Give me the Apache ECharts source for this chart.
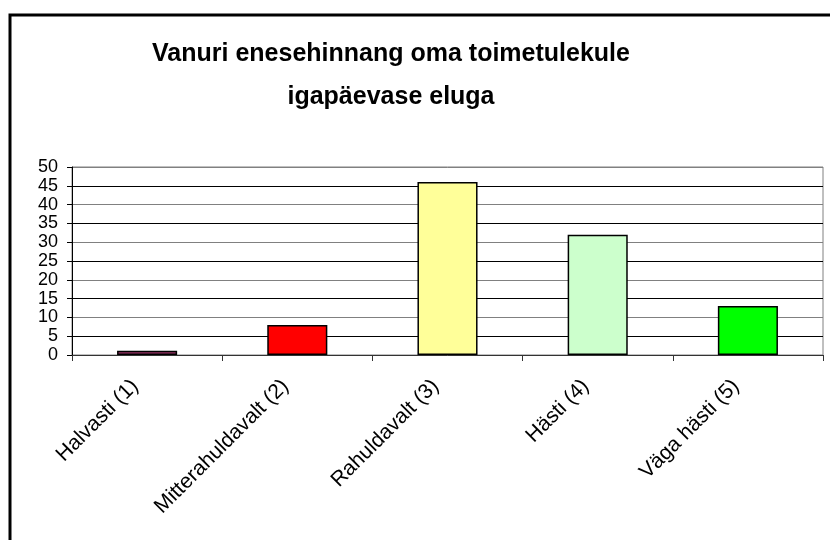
<!DOCTYPE html>
<html>
<head>
<meta charset="utf-8">
<script src="https://cdn.jsdelivr.net/npm/echarts@6/dist/echarts.min.js"></script>
<style>
  html, body { margin: 0; padding: 0; background: #fff; }
  #chart { width: 830px; height: 540px; }
</style>
</head>
<body>
<div id="chart"></div>
<script>
var categories = ['Halvasti (1)', 'Mitterahuldavalt (2)', 'Rahuldavalt (3)', 'Hästi (4)', 'Väga hästi (5)'];
var values = [1.1, 8, 46, 32, 13];
var barColors = ['#993366', '#ff0000', '#ffff99', '#ccffcc', '#00ff00'];

var myChart = echarts.init(document.getElementById('chart'));

var seriesData = [];
for (var i = 0; i < values.length; i++) {
    seriesData.push({ value: values[i], itemStyle: { color: barColors[i] } });
}

var option = {
    backgroundColor: '#fff',
    animation: false,
    textStyle: { fontFamily: 'Liberation Sans, Arial, sans-serif' },
    title: {
        text: 'Vanuri enesehinnang oma toimetulekule\nigapäevase eluga',
        left: 386,
        top: 28,
        textAlign: 'center',
        textStyle: {
            fontSize: 25,
            fontWeight: 'bold',
            color: '#000',
            lineHeight: 43,
            fontFamily: 'Liberation Sans, Arial, sans-serif'
        }
    },
    graphic: [{
        type: 'rect',
        shape: { x: 10, y: 15, width: 900, height: 600 },
        style: { fill: null, stroke: '#000', lineWidth: 3 },
        silent: true
    }],
    grid: {
        left: 72,
        right: 7,
        top: 167,
        bottom: 185,
        show: true,
        borderColor: '#808080',
        borderWidth: 1
    },
    xAxis: {
        type: 'category',
        data: categories,
        axisLine: { lineStyle: { color: '#333', width: 1 } },
        axisTick: { show: true, length: 6, lineStyle: { color: '#333' } },
        axisLabel: {
            rotate: 45,
            color: '#000',
            fontSize: 21,
            margin: 16,
            padding: [0, 17, 0, 0],
            interval: 0
        }
    },
    yAxis: {
        type: 'value',
        min: 0,
        max: 50,
        interval: 5,
        axisLine: { show: true, lineStyle: { color: '#000', width: 1 } },
        axisTick: { show: true, length: 5, lineStyle: { color: '#000' } },
        axisLabel: { color: '#000', fontSize: 18, margin: 14 },
        splitLine: { lineStyle: { color: ['#808080', '#000'], width: 1 } }
    },
    series: [{
        type: 'bar',
        data: seriesData,
        barWidth: '40%',
        itemStyle: { borderColor: '#000', borderWidth: 1.5 }
    }]
};

myChart.setOption(option);
</script>
</body>
</html>
